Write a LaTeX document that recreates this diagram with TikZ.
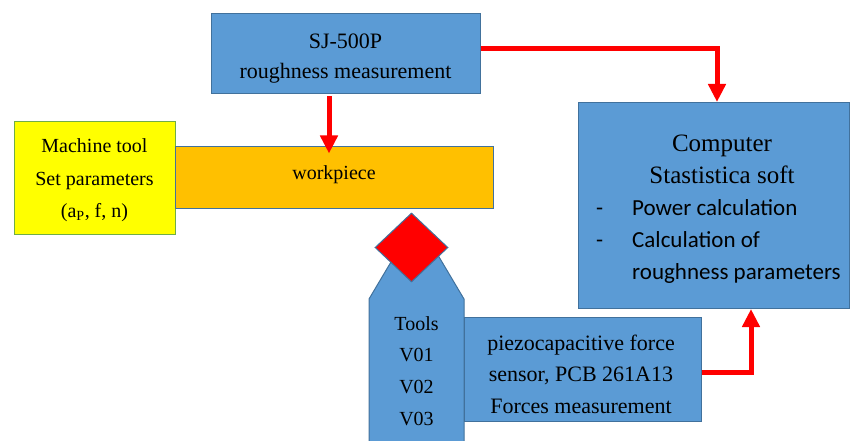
\documentclass[tikz,border=0pt]{standalone}
\usepackage{fontspec}
\setmainfont{Liberation Serif}
\newfontfamily\calib{Carlito}
\usetikzlibrary{shapes.geometric,arrows.meta}
\definecolor{boxblue}{HTML}{5B9BD5}
\definecolor{edgeblue}{HTML}{41719C}
\definecolor{machyellow}{HTML}{FFFF00}
\definecolor{machedge}{HTML}{70AD47}
\definecolor{workorange}{HTML}{FFC000}
\definecolor{flowred}{HTML}{FF0000}
\begin{document}
\begin{tikzpicture}[x=1pt,y=-1pt,
  bluebox/.style={draw=edgeblue,line width=1pt,fill=boxblue,inner sep=0pt},
  txt/.style={inner sep=0pt,align=center},
  flow/.style={draw=flowred,line width=5pt,
    -{Triangle[width=17pt,length=18pt]}}]
\useasboundingbox (0,0) rectangle (852,441);

% measuring device
\node[bluebox,minimum width=269pt,minimum height=80pt] (sj) at (345.5,54) {};
\node[txt,font=\fontsize{22}{30}\selectfont] (sjtext) at (345.5,59)
  {SJ-500P\\roughness measurement};

% machine tool and workpiece
\node[draw=machedge,line width=1pt,fill=machyellow,minimum width=161pt,
  minimum height=112pt,inner sep=0pt] (mach) at (94.5,178) {};
\node[txt,font=\fontsize{20}{32.5}\selectfont] (machtext) at (94.5,180.5)
  {Machine tool\\Set parameters\\(a\textsubscript{P}, f, n)};
\node[draw=edgeblue,line width=1pt,fill=workorange,minimum width=318pt,
  minimum height=62pt,inner sep=0pt] (work) at (334,178) {};
\node[txt,font=\fontsize{20}{24}\selectfont] (worktext) at (334,175) {workpiece};

% computer
\node[bluebox,minimum width=271pt,minimum height=206pt] (comp) at (713.5,205.5) {};
\node[txt,font=\fontsize{25}{32}\selectfont] (comphead) at (722,159)
  {Computer\\Stastistica soft};
\node[inner sep=0pt,anchor=west,font=\calib\fontsize{23}{32}\selectfont]
  (complist) at (596,241)
  {\begin{tabular}{@{}l@{\hspace{29pt}}l@{}}
   -&Power calculation\\
   -&Calculation of\\
    &roughness parameters
   \end{tabular}};

% tool holder with cutting insert
\coordinate (tbl) at (369,450);
\coordinate (tshl) at (369,299);
\coordinate (tapex) at (416.5,219);
\coordinate (tshr) at (464,299);
\coordinate (tbr) at (464,450);
\draw[draw=edgeblue,line width=1pt,fill=boxblue]
  (tbl) -- (tshl) -- (tapex) -- (tshr) -- (tbr) -- cycle;
\node[txt,font=\fontsize{20}{31.7}\selectfont] (tools) at (416.5,371)
  {Tools\\V01\\V02\\V03};
\node[diamond,draw=edgeblue,line width=1pt,fill=flowred,inner sep=0pt,
  minimum width=73pt,minimum height=69pt] (insert) at (411.5,247.5) {};

% force sensor
\node[bluebox,minimum width=237pt,minimum height=104pt] (sensor) at (582.5,369) {};
\node[txt,font=\fontsize{22}{31.5}\selectfont] (sensortext) at (581,374)
  {piezocapacitive force\\sensor, PCB 261A13\\Forces measurement};

% signal flow
\draw[flow] ([yshift=5pt]sj.east) -| ([xshift=3.5pt]comp.north);
\draw[flow] ([xshift=-16.5pt,yshift=-2pt]sj.south) -- ([xshift=-5pt,yshift=-7pt]work.north);
\draw[flow] ([yshift=-3pt]sensor.east) -| ([xshift=37.5pt]comp.south);
\end{tikzpicture}
\end{document}
